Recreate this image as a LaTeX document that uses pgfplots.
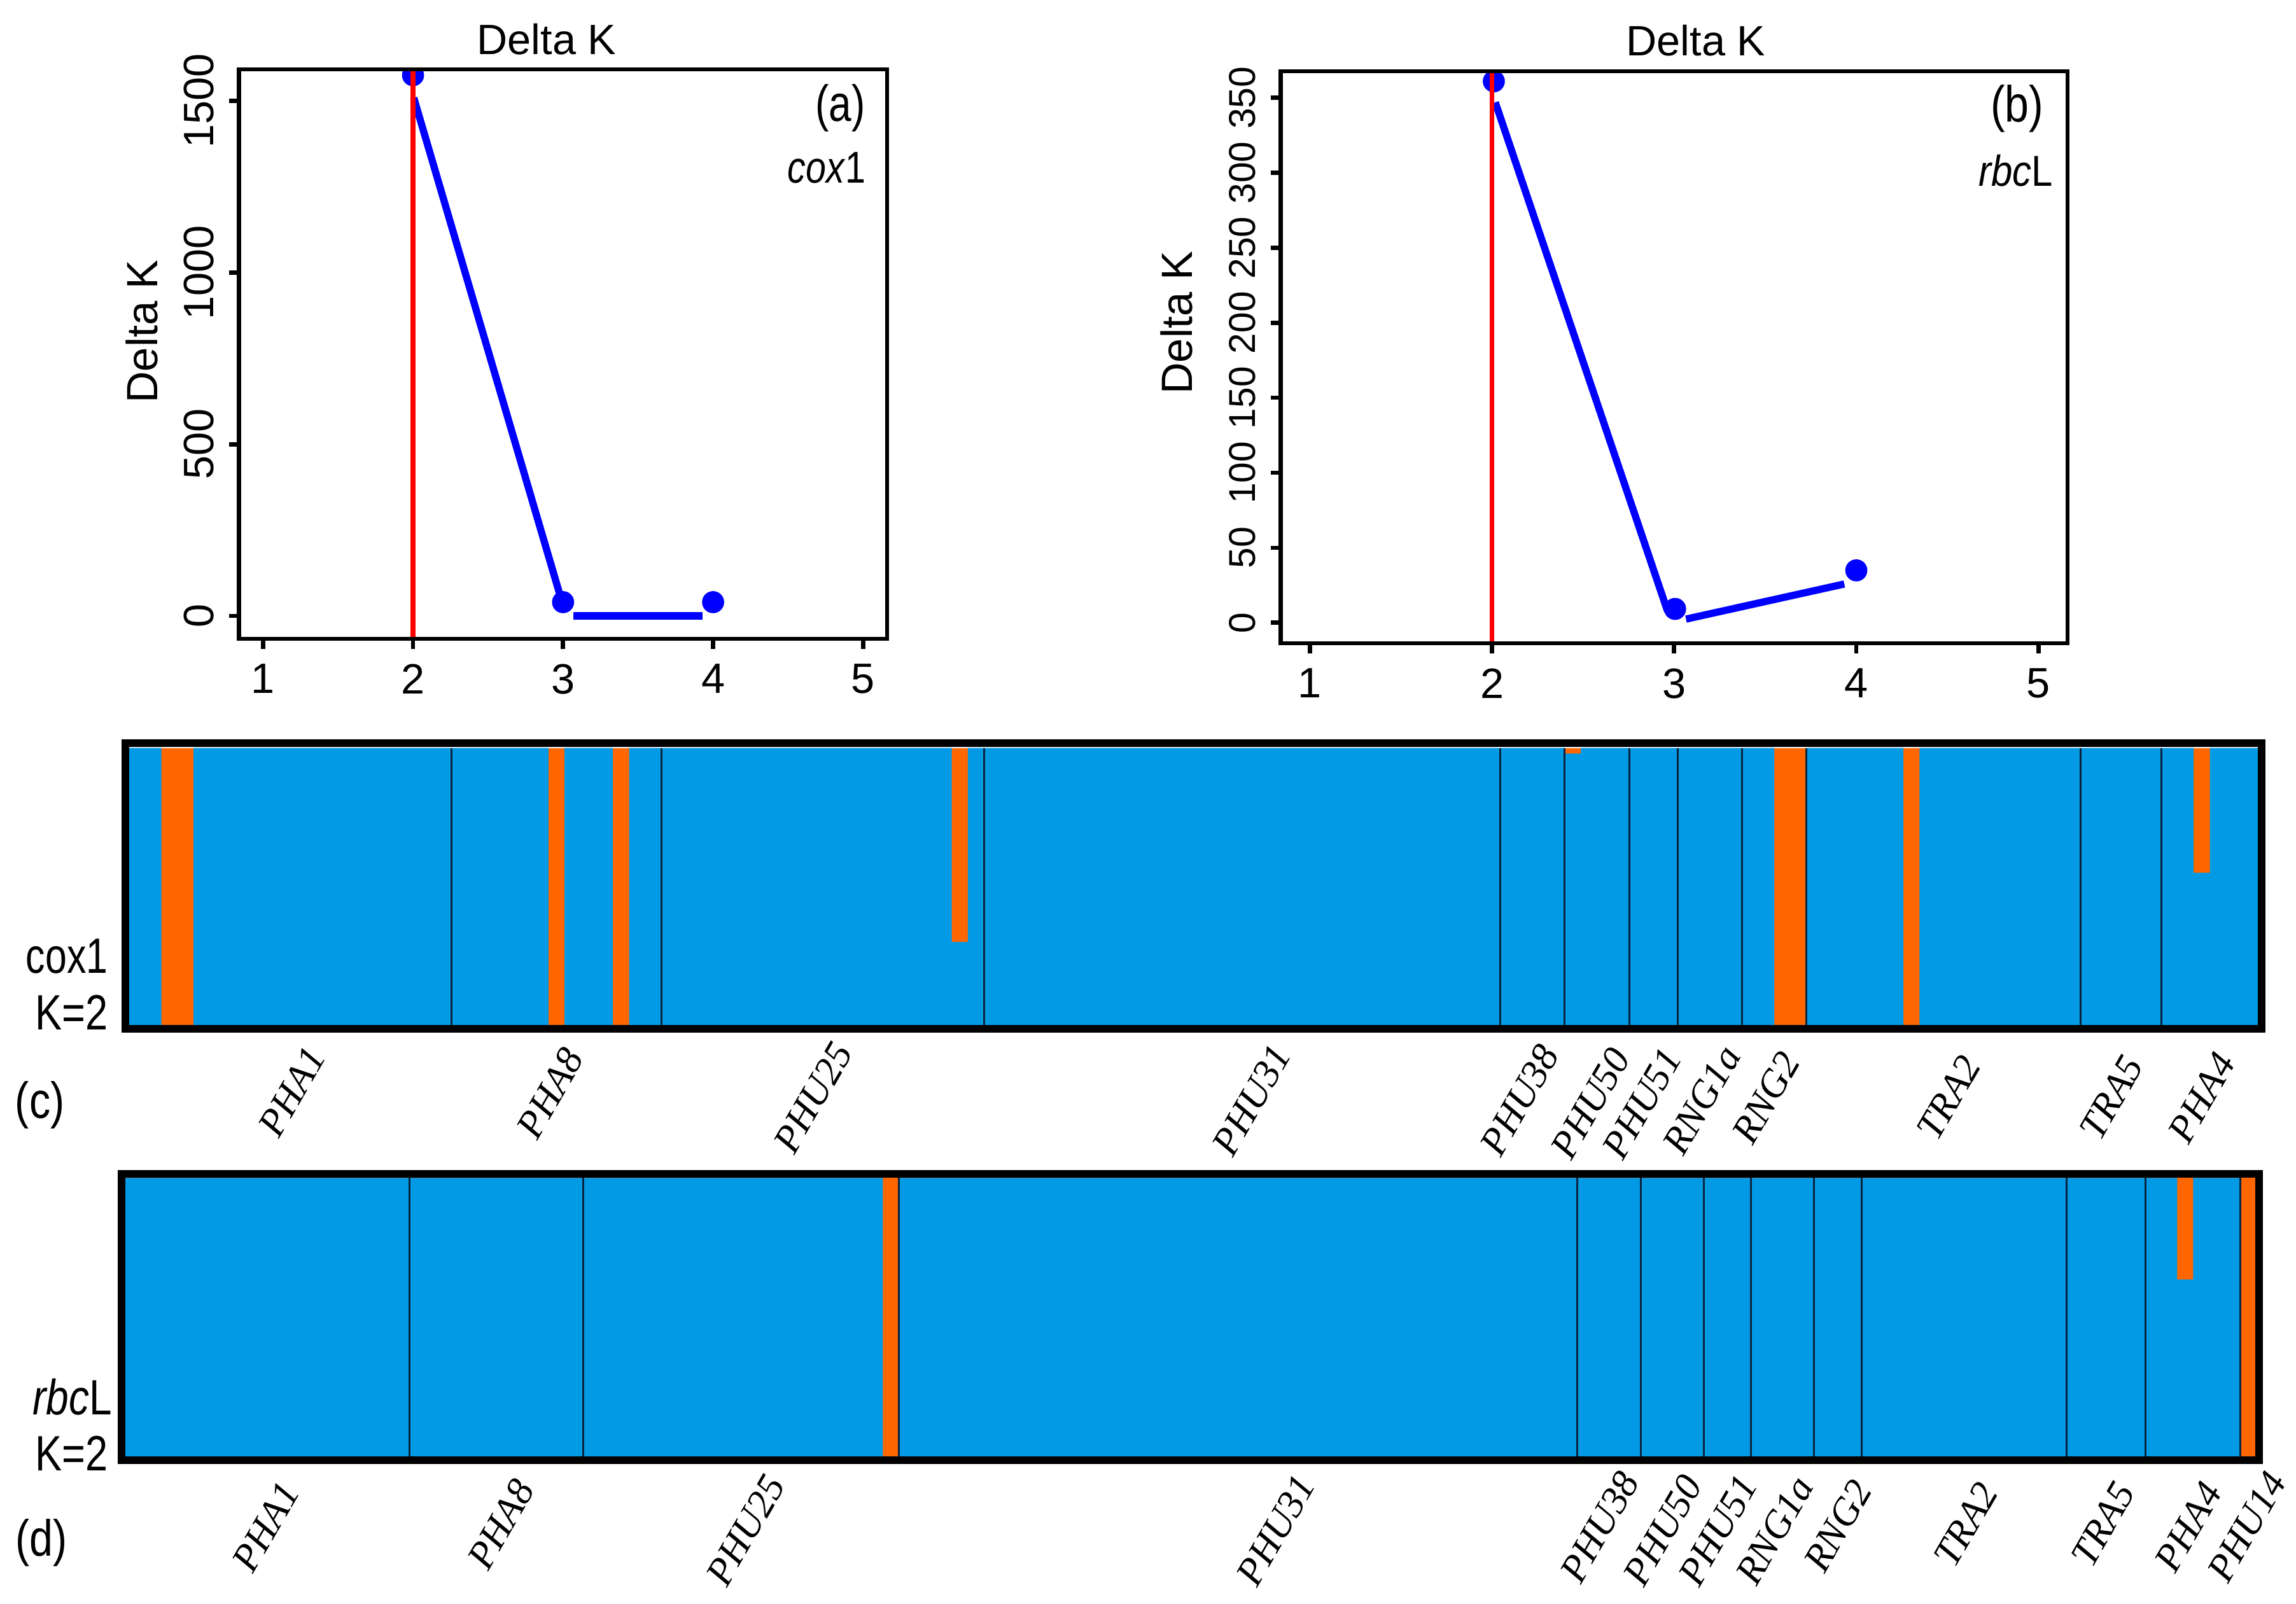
\documentclass[border=0pt]{standalone}
\usepackage{fontspec}
\setmainfont{Liberation Sans}
\newfontfamily\labfont{Liberation Serif}
\usepackage{graphicx}
\usepackage{pgfplots}
\pgfplotsset{compat=1.18}
\definecolor{sblue}{RGB}{2,154,229}
\definecolor{sorange}{RGB}{255,102,0}
\definecolor{sepcol}{RGB}{10,35,60}
\newcommand{\fs}[1]{\fontsize{#1}{#1}\selectfont}
\newcommand{\nar}[2]{\scalebox{#1}[1]{#2}}

\pgfplotsset{
  dk/.style={
    scale only axis, anchor=south west, axis on top,
    xmin=0.84, xmax=5.16, xtick={1,2,3,4,5},
    tick align=outside, tick pos=left, major tick length=2.4pt,
    axis line style={line width=1pt}, every tick/.style={black, line width=1pt},
    tick label style={font=\fs{10}},
    yticklabel style={rotate=90, anchor=south},
    /pgf/number format/assume math mode=true,
    /pgf/number format/1000 sep={},
    clip marker paths=true,
  },
  st/.style={
    scale only axis, anchor=south west, axis on top,
    axis line style={line width=1.8pt}, ticks=none, clip=false,
  },
}
\tikzset{lab/.style={rotate=60, font=\labfont\itshape\fs{9.2}, inner sep=0pt}}

\pgfplotstableread{
x b
0 1
2 0
4 1
26 0
27 1
30 0
31 1
51 0.30
52 1
89 0.98
90 1
102 0
104 1
110 0
111 1
128 0.55
129 1
132 1
}\cblue

\pgfplotstableread{
x b
0 1
48 0
49 1
130 0.635
131 1
134 0
135 0
}\dblue

\begin{document}
\begin{tikzpicture}
\path[use as bounding box] (0,0) rectangle (541.2pt,378pt);

% (a)
\begin{axis}[dk, at={(56.33pt,227.4pt)}, width=152.78pt, height=134.25pt,
  ymin=-66.7, ymax=1592, ytick={0,500,1000,1500}]
\addplot[blue, line width=1.7pt] coordinates {(2.005,1509) (2.98,60)};
\addplot[blue, line width=1.7pt] coordinates {(3.07,0) (3.93,0)};
\addplot[blue, only marks, mark=*, mark size=2.4pt] coordinates {(2,1575) (3,40) (4,40)};
\addplot[red, line width=1.1pt] coordinates {(2,-66.7) (2,1592)};
\end{axis}

% (b)
\begin{axis}[dk, at={(301.88pt,226.35pt)}, width=185.48pt, height=134.85pt,
  ymin=-13.7, ymax=367.7, ytick={0,50,100,150,200,250,300,350},
  yticklabel style={font=\fs{8.8}}]
\addplot[blue, line width=1.7pt] coordinates {(2.018,347) (2.964,7.6)};
\addplot[blue, line width=1.7pt] coordinates {(3.065,2.4) (3.934,25.8)};
\addplot[blue, only marks, mark=*, mark size=2.4pt] coordinates {(2.01,361) (3.005,9.2) (4,34.9)};
\addplot[red, line width=1.1pt] coordinates {(2,-13.7) (2,367.7)};
\end{axis}

\node[font=\fs{10}] at (128.85pt,368.7pt) {Delta K};
\node[font=\fs{10}] at (399.75pt,368.4pt) {Delta K};
\node[font=\fs{10.3}, rotate=90] at (33.45pt,299.85pt) {Delta K};
\node[font=\fs{10.3}, rotate=90] at (277.35pt,301.95pt) {Delta K};
\node[font=\fs{12}, anchor=east, inner sep=0pt] at (204.1pt,352.5pt) {\nar{0.8}{(a)}};
\node[font=\fs{10.5}, anchor=east, inner sep=0pt] at (204.3pt,338.4pt) {\nar{0.82}{\textit{cox}1}};
\node[font=\fs{12}, anchor=east, inner sep=0pt] at (481.9pt,352.35pt) {\nar{0.85}{(b)}};
\node[font=\fs{10.2}, anchor=east, inner sep=0pt] at (484.05pt,337.8pt) {\nar{0.88}{\textit{rbc}L}};

% (c)
\begin{axis}[st, at={(29.49pt,135.45pt)}, width=503.6pt, height=67.28pt,
  xmin=-0.245, xmax=132.21, ymin=-0.0138, ymax=1.0165]
\addplot[fill=sorange, draw=none] coordinates {(0,1) (132,1)} \closedcycle;
\addplot[fill=sblue, draw=none, const plot] table[x=x, y=b] {\cblue} \closedcycle;
\addplot[ycomb, sepcol, line width=0.45pt, mark=none] coordinates {(20,1) (33,1) (53,1) (85,1) (89,1) (93,1) (96,1) (100,1) (104,1) (121,1) (126,1)};
\node[lab] at (axis cs:10.1,-0.241) {PHA1};
\node[lab] at (axis cs:26.1,-0.246) {PHA8};
\node[lab] at (axis cs:42.4,-0.262) {PHU25};
\node[lab] at (axis cs:69.6,-0.271) {PHU31};
\node[lab] at (axis cs:86.2,-0.271) {PHU38};
\node[lab] at (axis cs:90.6,-0.283) {PHU50};
\node[lab] at (axis cs:93.8,-0.283) {PHU51};
\node[lab] at (axis cs:97.5,-0.271) {RNG1a};
\node[lab] at (axis cs:101.5,-0.262) {RNG2};
\node[lab] at (axis cs:112.8,-0.262) {TRA2};
\node[lab] at (axis cs:122.9,-0.262) {TRA5};
\node[lab] at (axis cs:128.5,-0.262) {PHA4};
\end{axis}

\node[font=\fs{11.7}, anchor=east, inner sep=0pt] at (25.6pt,152.6pt) {\nar{0.78}{cox1}};
\node[font=\fs{11.7}, anchor=east, inner sep=0pt] at (25.6pt,139.3pt) {\nar{0.81}{K=2}};
\node[font=\fs{12}] at (9.4pt,117.5pt) {\nar{0.83}{(c)}};

% (d)
\begin{axis}[st, at={(28.58pt,33.69pt)}, width=503.87pt, height=67.62pt,
  xmin=-0.25, xmax=135.17, ymin=-0.0152, ymax=1.0152]
\addplot[fill=sorange, draw=none] coordinates {(0,1) (135,1)} \closedcycle;
\addplot[fill=sblue, draw=none, const plot] table[x=x, y=b] {\dblue} \closedcycle;
\addplot[ycomb, sepcol, line width=0.45pt, mark=none] coordinates {(18,1) (29,1) (49,1) (92,1) (96,1) (100,1) (103,1) (107,1) (110,1) (123,1) (128,1) (134,1)};
\node[lab] at (axis cs:8.9,-0.254) {PHA1};
\node[lab] at (axis cs:23.8,-0.245) {PHA8};
\node[lab] at (axis cs:39.3,-0.266) {PHU25};
\node[lab] at (axis cs:72.9,-0.266) {PHU31};
\node[lab] at (axis cs:93.4,-0.254) {PHU38};
\node[lab] at (axis cs:97.4,-0.266) {PHU50};
\node[lab] at (axis cs:100.9,-0.266) {PHU51};
\node[lab] at (axis cs:104.5,-0.266) {RNG1a};
\node[lab] at (axis cs:108.5,-0.25) {RNG2};
\node[lab] at (axis cs:116.6,-0.245) {TRA2};
\node[lab] at (axis cs:125.3,-0.245) {TRA5};
\node[lab] at (axis cs:130.7,-0.254) {PHA4};
\node[lab] at (axis cs:134.4,-0.254) {PHU14};
\end{axis}

\node[font=\fs{11.7}, anchor=east, inner sep=0pt] at (26.6pt,48.6pt) {\nar{0.82}{\textit{rbc}L}};
\node[font=\fs{11.7}, anchor=east, inner sep=0pt] at (25.6pt,35.4pt) {\nar{0.81}{K=2}};
\node[font=\fs{12}] at (9.75pt,14.25pt) {\nar{0.83}{(d)}};
\end{tikzpicture}
\end{document}
